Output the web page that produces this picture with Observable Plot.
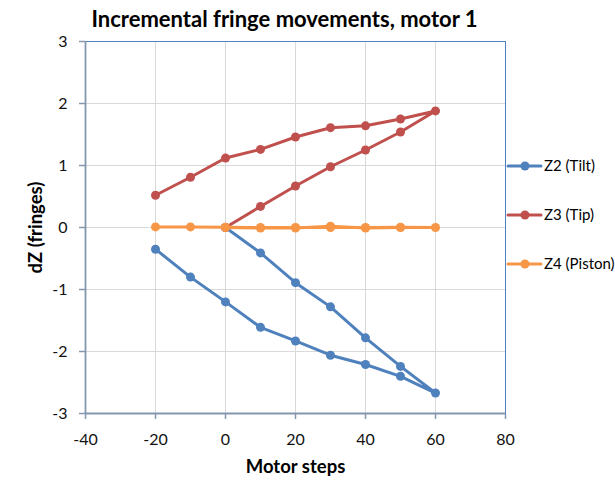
<!DOCTYPE html>
<html>
<head>
<meta charset="utf-8">
<script src="https://cdn.jsdelivr.net/npm/d3@7"></script>
<script src="https://cdn.jsdelivr.net/npm/@observablehq/plot@0.6"></script>
<style>
  html, body { margin: 0; padding: 0; background: #fff; }
  #wrap { position: relative; width: 615px; height: 481px; font-family: Lato, "Open Sans", sans-serif; }
  #legend { position: absolute; left: 0; top: 0; }
</style>
</head>
<body>
<div id="wrap"></div>
<script>
// ---- data ----
const steps  = [0, 10, 20, 30, 40, 50, 60, 50, 40, 30, 20, 10, 0, -10, -20];
const tilt   = [0, -0.41, -0.89, -1.28, -1.78, -2.24, -2.67, -2.40, -2.21, -2.06, -1.83, -1.61, -1.20, -0.80, -0.35];
const tip    = [0, 0.34, 0.67, 0.98, 1.25, 1.54, 1.88, 1.75, 1.64, 1.61, 1.46, 1.26, 1.12, 0.81, 0.52];
const piston = [0, -0.01, -0.01, 0.02, -0.01, 0, 0, 0.005, 0, 0, 0, 0, 0.005, 0.01, 0.01];
const seriesNames  = ["Z2 (Tilt)", "Z3 (Tip)", "Z4 (Piston)"];
const seriesColors = ["#4f81bd", "#c0504d", "#f79646"];
const xTicks = [-40, -20, 0, 20, 40, 60, 80];
const yTicks = [-3, -2, -1, 0, 1, 2, 3];
const title  = "Incremental fringe movements, motor 1";
const xLabel = "Motor steps";
const yLabel = "dZ (fringes)";

const seriesValues = [tilt, tip, piston];
const rows = [];
seriesValues.forEach((vals, s) => vals.forEach((v, i) => rows.push({series: seriesNames[s], step: steps[i], value: v, order: i})));

const axisGray = "#8497b0";
const frameBlue = "#4f81bd";
const gridGray = "#d9d9d9";
const fmt = d => String(d);

const seriesMarks = seriesNames.flatMap((name, s) => {
  const d = rows.filter(r => r.series === name);
  return [
    Plot.line(d, {x: "step", y: "value", stroke: seriesColors[s], strokeWidth: 3, strokeLinejoin: "round", strokeLinecap: "round"}),
    Plot.dot(d, {x: "step", y: "value", r: 4.5, fill: seriesColors[s], stroke: "none"})
  ];
});

const chart = Plot.plot({
  width: 615,
  height: 481,
  marginLeft: 85,
  marginRight: 110,
  marginTop: 41,
  marginBottom: 68,
  style: {fontFamily: "Lato, 'Open Sans', sans-serif", background: "#fff", color: "#000"},
  x: {domain: [-40, 80], ticks: xTicks},
  y: {domain: [-3, 3], ticks: yTicks},
  marks: [
    Plot.gridX(xTicks.slice(1, -1), {stroke: gridGray, strokeOpacity: 1, strokeWidth: 1}),
    Plot.gridY(yTicks.slice(1, -1), {stroke: gridGray, strokeOpacity: 1, strokeWidth: 1}),
    Plot.ruleY([yTicks[yTicks.length - 1]], {stroke: frameBlue, strokeWidth: 1}),
    Plot.ruleX([xTicks[xTicks.length - 1]], {stroke: frameBlue, strokeWidth: 1}),
    Plot.axisX(xTicks, {tickSize: 6, tickPadding: 14, fontSize: 16, stroke: axisGray, strokeWidth: 1.5, fill: "#111", label: null, tickFormat: fmt}),
    Plot.axisY(yTicks, {tickSize: 6, tickPadding: 12, fontSize: 16, stroke: axisGray, strokeWidth: 1.5, fill: "#111", label: null, tickFormat: fmt}),
    Plot.ruleY([yTicks[0]], {stroke: axisGray, strokeWidth: 1.8}),
    Plot.ruleX([xTicks[0]], {stroke: axisGray, strokeWidth: 1.8}),
    ...seriesMarks,
    Plot.text([title], {text: d => d, frameAnchor: "top", textAnchor: "middle", lineAnchor: "middle", dy: -22, dx: -11, fontSize: 22, fontWeight: "bold", fill: "#000"}),
    Plot.text([xLabel], {text: d => d, frameAnchor: "bottom", textAnchor: "middle", lineAnchor: "middle", dy: 54, fontSize: 18.5, fontWeight: "bold", fill: "#000"}),
    Plot.text([yLabel], {text: d => d, frameAnchor: "left", textAnchor: "middle", lineAnchor: "middle", dx: -49, rotate: -90, fontSize: 18.5, fontWeight: "bold", fill: "#000"})
  ]
});

const wrap = document.getElementById("wrap");
wrap.appendChild(chart);

// legend (SVG overlay on the right)
const legendTop = [166, 215, 264];
const leg = d3.select(wrap).append("svg")
  .attr("id", "legend")
  .attr("width", 615).attr("height", 481)
  .style("pointer-events", "none");
seriesNames.forEach((name, i) => {
  const g = leg.append("g").attr("transform", `translate(508,${legendTop[i]})`);
  g.append("line").attr("x1", 0).attr("x2", 33).attr("y1", 0).attr("y2", 0)
    .attr("stroke", seriesColors[i]).attr("stroke-width", 3).attr("stroke-linecap", "round");
  g.append("circle").attr("cx", 17).attr("cy", 0).attr("r", 4.5).attr("fill", seriesColors[i]);
  g.append("text").attr("x", 36).attr("y", 0).attr("dy", "0.35em")
    .attr("font-size", 15).attr("font-family", "Lato, 'Open Sans', sans-serif").attr("fill", "#000")
    .text(name);
});
</script>
</body>
</html>
